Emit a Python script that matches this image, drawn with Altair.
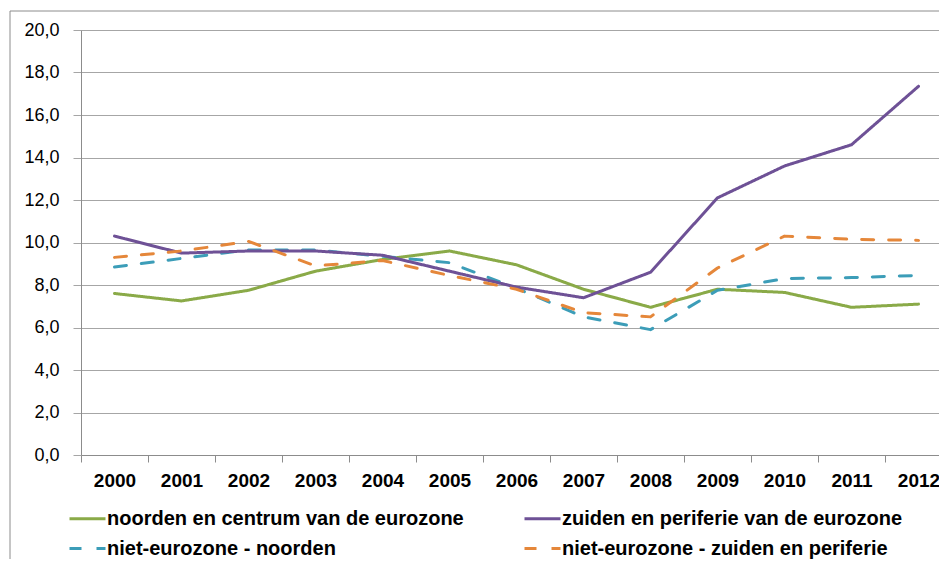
import altair as alt
import pandas as pd

years = [str(y) for y in range(2000, 2013)]
series_names = [
    "noorden en centrum van de eurozone",
    "niet-eurozone - noorden",
    "zuiden en periferie van de eurozone",
    "niet-eurozone - zuiden en periferie",
]
noorden_centrum = [7.6, 7.25, 7.75, 8.65, 9.2, 9.6, 8.95, 7.8, 6.95, 7.8, 7.65, 6.95, 7.1]
niet_noorden = [8.85, 9.25, 9.65, 9.65, 9.35, 9.05, 7.85, 6.5, 5.9, 7.75, 8.3, 8.35, 8.45]
zuiden_periferie = [10.3, 9.5, 9.6, 9.6, 9.4, 8.65, 7.9, 7.4, 8.6, 12.1, 13.6, 14.6, 17.35]
niet_zuiden = [9.3, 9.6, 10.05, 8.9, 9.15, 8.45, 7.8, 6.7, 6.5, 8.8, 10.3, 10.15, 10.1]
colors = ["#8AAA48", "#3C9DB8", "#6E5196", "#E5873A"]
dashes = [[1, 0], [12, 15], [1, 0], [12, 15]]

rows = []
for name, vals in zip(series_names, [noorden_centrum, niet_noorden, zuiden_periferie, niet_zuiden]):
    for y, v in zip(years, vals):
        rows.append({"jaar": y, "waarde": v, "reeks": name})
df = pd.DataFrame(rows)

lines = alt.Chart(df).mark_line(strokeWidth=3, strokeCap="round", strokeJoin="round").encode(
    x=alt.X(
        "jaar:O",
        bandPosition=0.5,
        scale=alt.Scale(type="band", paddingInner=0, paddingOuter=0),
        axis=alt.Axis(
            title=None,
            labelAngle=0,
            labelFont="Liberation Sans",
            labelFontWeight="bold",
            labelFontSize=19,
            labelColor="#000000",
            labelPadding=9,
            tickBand="extent",
            tickSize=7,
            tickColor="#8c8c8c",
            domainColor="#8c8c8c",
            domainWidth=1,
            grid=False,
        ),
    ),
    y=alt.Y(
        "waarde:Q",
        scale=alt.Scale(domain=[0, 20], nice=False),
        axis=alt.Axis(
            title=None,
            values=[0, 2, 4, 6, 8, 10, 12, 14, 16, 18, 20],
            labelExpr="replace(format(datum.value, '.1f'), '.', ',')",
            labelFont="Liberation Sans",
            labelFontSize=18,
            labelColor="#000000",
            labelPadding=14,
            tickSize=8,
            tickColor="#a6a6a6",
            domainColor="#8c8c8c",
            gridColor="#a6a6a6",
            gridWidth=1.2,
        ),
    ),
    color=alt.Color(
        "reeks:N",
        sort=series_names,
        scale=alt.Scale(domain=series_names, range=colors),
        legend=alt.Legend(
            title=None,
            orient="none",
            legendX=-13,
            legendY=469,
            columns=2,
            columnPadding=54,
            rowPadding=-6,
            symbolType="stroke",
            symbolSize=1296,
            symbolStrokeWidth=3,
            labelFont="Liberation Sans",
            labelFontWeight="bold",
            labelFontSize=20,
            labelColor="#000000",
            labelOffset=0,
            labelLimit=0,
            padding=0,
        ),
    ),
    strokeDash=alt.StrokeDash(
        "reeks:N",
        sort=series_names,
        scale=alt.Scale(domain=series_names, range=dashes),
        legend=alt.Legend(title=None),
    ),
)

frame_df = pd.DataFrame({"k": [0]})
frame = alt.Chart(frame_df).mark_rect(fill=None, stroke="#8c8c8c", strokeWidth=1, clip=False).encode(
    x=alt.value(-71), x2=alt.value(1000), y=alt.value(-19), y2=alt.value(700)
)

chart = alt.layer(frame, lines).properties(
    width=871,
    height=425,
    autosize=alt.AutoSizeParams(type="none"),
    padding={"left": 73, "top": 22, "right": -13, "bottom": 104},
).configure_view(stroke=None).configure(background="white")

chart.save("out.html", embed_options={"renderer": "svg", "actions": False})
